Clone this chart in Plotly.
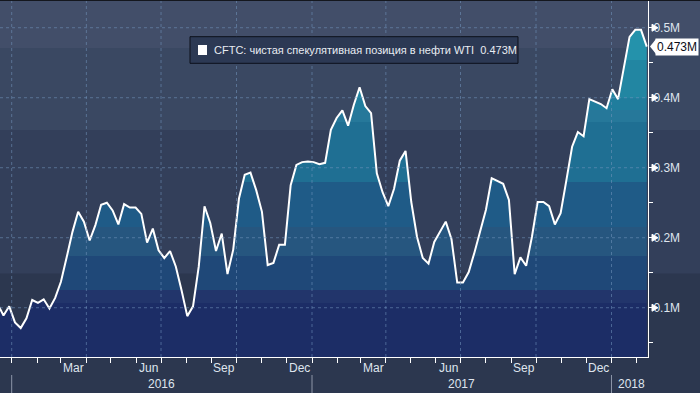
import plotly.graph_objects as go
import pandas as pd

# ---- data (net speculative position, millions of contracts) ----
start_date = "2015-12-15"
net_position_m = [
    0.105, 0.089, 0.102, 0.079, 0.071, 0.085, 0.111, 0.107, 0.112, 0.099,
    0.114, 0.137, 0.172, 0.208, 0.237, 0.223, 0.196, 0.218, 0.247, 0.250,
    0.239, 0.219, 0.248, 0.243, 0.243, 0.234, 0.193, 0.213, 0.182, 0.171,
    0.181, 0.159, 0.125, 0.088, 0.102, 0.159, 0.245, 0.221, 0.181, 0.206,
    0.148, 0.183, 0.256, 0.290, 0.293, 0.268, 0.237, 0.161, 0.164, 0.190,
    0.190, 0.275, 0.304, 0.308, 0.309, 0.308, 0.305, 0.307, 0.354, 0.371,
    0.382, 0.360, 0.390, 0.415, 0.388, 0.378, 0.292, 0.265, 0.245, 0.270,
    0.310, 0.324, 0.251, 0.201, 0.171, 0.163, 0.194, 0.209, 0.223, 0.198,
    0.136, 0.136, 0.151, 0.179, 0.209, 0.240, 0.285, 0.281, 0.277, 0.254,
    0.148, 0.172, 0.160, 0.201, 0.251, 0.251, 0.245, 0.219, 0.235, 0.282,
    0.330, 0.351, 0.345, 0.398, 0.394, 0.391, 0.385, 0.412, 0.398, 0.444,
    0.487, 0.497, 0.497, 0.473,
]
dates = pd.date_range(start_date, periods=len(net_position_m), freq="7D")

series_name = "CFTC: чистая спекулятивная позиция в нефти WTI"
last_label = "0.473M"
y_tick_vals = [0.05, 0.10, 0.15, 0.20, 0.25, 0.30, 0.35, 0.40, 0.45, 0.50]
y_tick_text = ["", "0.1M", "", "0.2M", "", "0.3M", "", "0.4M", "", "0.5M"]
month_labels = ["Mar", "Jun", "Sep", "Dec"]
month_numbers = [3, 6, 9, 12]
years = [2016, 2017, 2018]

# ---- styling ----
Y_MIN, Y_MAX = 0.0296, 0.5396
X_RANGE = ["2015-12-17 18:00", "2018-02-14 12:00"]
FONT = "Liberation Sans"
TXT = "#dfe5ee"

fill_bounds = [0.03, 0.107, 0.125, 0.174, 0.215, 0.280, 0.365, 0.382, 0.400, 0.454, 0.54]
fill_colors = ["#1c2d66", "#22356b", "#1f4878", "#26567f", "#1f5b87",
               "#1f6f93", "#26789a", "#207d9d", "#2286a2", "#2492ab"]
cs = []
span = fill_bounds[-1] - fill_bounds[0]
for i, c in enumerate(fill_colors):
    a = (fill_bounds[i] - fill_bounds[0]) / span
    b = (fill_bounds[i + 1] - fill_bounds[0]) / span
    cs.append([a, c])
    cs.append([b, c])

fig = go.Figure()
fig.add_trace(go.Scatter(
    x=dates, y=net_position_m, mode="lines",
    line=dict(color="white", width=2),
    fill="tozeroy",
    fillgradient=dict(type="vertical", start=fill_bounds[0], stop=fill_bounds[-1], colorscale=cs),
    hoverinfo="skip", showlegend=False,
))

def py(v):
    return (v - Y_MIN) / (Y_MAX - Y_MIN)

shapes = []
# background bands (full width)
bg_bands = [(0.149, "#333f5a"), (0.354, "#3a4862"), (0.471, "#424e69")]
for lo, col in bg_bands:
    shapes.append(dict(type="rect", xref="paper", yref="paper", x0=0, x1=1.1,
                       y0=py(lo), y1=1.0, fillcolor=col, line_width=0, layer="below"))

grid_col = "rgba(115,150,190,0.55)"
for v in [0.1, 0.2, 0.3, 0.4, 0.5]:
    shapes.append(dict(type="line", xref="paper", yref="y", x0=0, x1=1, y0=v, y1=v,
                       line=dict(color=grid_col, width=1, dash="dot"), layer="above"))
quarters = pd.date_range("2016-01-01", "2018-01-01", freq="QS")
for q in quarters:
    shapes.append(dict(type="line", xref="x", yref="paper", x0=q, x1=q, y0=0, y1=1,
                       line=dict(color=grid_col, width=1, dash="dot"), layer="above"))

# year separators below axis
for yr in years:
    d = pd.Timestamp(f"{yr}-01-01")
    shapes.append(dict(type="line", xref="x", yref="paper", x0=d, x1=d,
                       y0=-18 / 357, y1=-37 / 357, line=dict(color="#8d96a8", width=1)))

# triangle markers on major y ticks
for v, t in zip(y_tick_vals, y_tick_text):
    if t:
        shapes.append(dict(type="path", xref="paper", yref="y", xsizemode="pixel",
                           ysizemode="pixel", xanchor=1, yanchor=v,
                           path="M 4 -3.5 L 10 0 L 4 3.5 Z",
                           fillcolor="white", line=dict(color="white", width=1)))

# last-value pointer
shapes.append(dict(type="path", xref="paper", yref="y", xsizemode="pixel",
                   ysizemode="pixel", xanchor=1, yanchor=net_position_m[-1],
                   path="M 2 0 L 8 -7.5 L 8 7.5 Z", fillcolor="white",
                   line=dict(color="white", width=0)))

# legend box
shapes.append(dict(type="rect", xref="paper", yref="paper",
                   x0=190 / 648, x1=518 / 648, y0=(357 - 63.3) / 357, y1=(357 - 36.7) / 357,
                   fillcolor="#2c3954", line=dict(color="#0c101b", width=1)))
shapes.append(dict(type="rect", xref="paper", yref="paper",
                   x0=198 / 648, x1=207 / 648, y0=(357 - 55) / 357, y1=(357 - 45) / 357,
                   fillcolor="white", line_width=0))
# top edge
shapes.append(dict(type="line", xref="paper", yref="paper", x0=0, x1=1.1, y0=1, y1=1,
                   line=dict(color="#14171e", width=2)))

annotations = []
for yr in years[:2]:
    for lab, m in zip(month_labels, month_numbers):
        a = pd.Timestamp(year=yr, month=m, day=1)
        b = a + pd.offsets.MonthBegin(1)
        mid = a + (b - a) / 2
        annotations.append(dict(x=mid, y=-11.5 / 357, xref="x", yref="paper", text=lab,
                                showarrow=False, xanchor="center", yanchor="middle",
                                font=dict(family=FONT, size=12, color=TXT)))
for yr in years:
    a = pd.Timestamp(f"{yr}-01-01")
    if yr < 2018:
        mid = a + (pd.Timestamp(f"{yr + 1}-01-01") - a) / 2
        annotations.append(dict(x=mid, y=-27 / 357, xref="x", yref="paper", text=str(yr),
                                showarrow=False, xanchor="center", yanchor="middle",
                                font=dict(family=FONT, size=12, color=TXT)))
    else:
        annotations.append(dict(x=a, y=-27 / 357, xref="x", yref="paper", text=str(yr),
                                showarrow=False, xanchor="left", yanchor="middle", xshift=5,
                                font=dict(family=FONT, size=12, color=TXT)))

annotations.append(dict(x=212 / 648, y=(357 - 50) / 357, xref="paper", yref="paper",
                        text=f"{series_name}  {last_label}", showarrow=False,
                        xanchor="left", yanchor="middle",
                        font=dict(family=FONT, size=11, color="#e8ecf2")))
annotations.append(dict(x=1, y=net_position_m[-1], xref="paper", yref="y", xshift=7,
                        text=last_label, showarrow=False, xanchor="left", yanchor="middle",
                        bgcolor="white", borderpad=1,
                        font=dict(family=FONT, size=12, color="#0b0d16")))

fig.update_layout(
    width=700, height=393,
    margin=dict(l=0, r=52, t=0, b=36),
    paper_bgcolor="#2c374f", plot_bgcolor="rgba(0,0,0,0)",
    showlegend=False,
    shapes=shapes, annotations=annotations,
    xaxis=dict(type="date", range=X_RANGE, showgrid=False, zeroline=False,
               showline=True, linecolor="white", linewidth=1,
               tickmode="array", tickvals=pd.date_range("2016-01-01", "2018-02-01", freq="MS"),
               ticktext=[""] * 26, ticks="outside", ticklen=5, tickcolor="white",
               showticklabels=False),
    yaxis=dict(side="right", range=[Y_MIN, Y_MAX], showgrid=False, zeroline=False,
               showline=True, linecolor="white", linewidth=1,
               tickmode="array", tickvals=y_tick_vals, ticktext=y_tick_text,
               ticks="outside", ticklen=4, tickcolor="white", ticklabelstandoff=-2,
               tickfont=dict(family=FONT, size=12, color=TXT)),
)

fig.write_html("out.html", config={"displayModeBar": False},
               post_script="document.body.style.margin='0';")
